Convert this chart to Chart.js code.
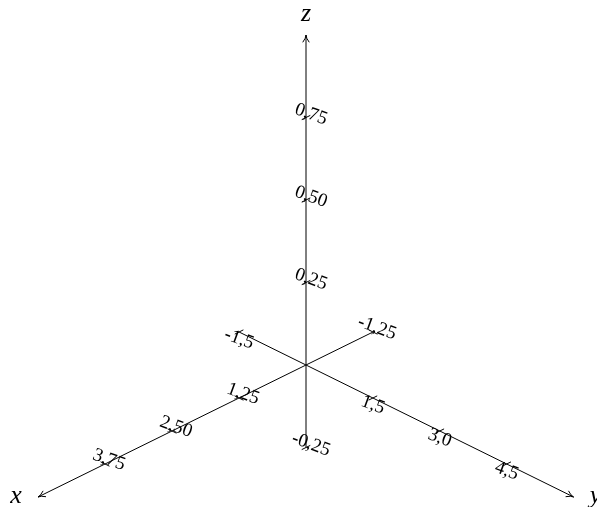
<!DOCTYPE html>
<html>
<head>
<meta charset="utf-8">
<script src="https://cdn.jsdelivr.net/npm/chart.js@4"></script>
<style>
  html, body { margin: 0; padding: 0; background: #fff; }
  #wrap { width: 597px; height: 507px; position: relative; }
</style>
</head>
<body>
<div id="wrap"><canvas id="chart"></canvas></div>
<script>
// ---------- data ----------
const AXIS_NAMES = ['x', 'y', 'z'];
const X_RANGE = [-1.25, 5];
const Y_RANGE = [-1.5, 6];
const Z_RANGE = [-0.25, 1];

const X_TICKS  = [-1.25, 1.25, 2.5, 3.75];
const X_LABELS = ['-1,25', '1,25', '2,50', '3,75'];
const Y_TICKS  = [-1.5, 1.5, 3, 4.5];
const Y_LABELS = ['-1,5', '1,5', '3,0', '4,5'];
const Z_TICKS  = [-0.25, 0.25, 0.5, 0.75];
const Z_LABELS = ['-0,25', '0,25', '0,50', '0,75'];

// ---------- projection (3d -> drawing plane) ----------
const EX = [-53.6, -26.4];   // one unit of x
const EY = [44.6, -22.0];    // one unit of y
const EZ = [0, 330];         // one unit of z
function project(x, y, z) {
  return {
    x: x * EX[0] + y * EY[0] + z * EZ[0],
    y: x * EX[1] + y * EY[1] + z * EZ[1],
  };
}

// a point on axis i at value v
function onAxis(i, v) {
  return project(i === 0 ? v : 0, i === 1 ? v : 0, i === 2 ? v : 0);
}

const RANGES = [X_RANGE, Y_RANGE, Z_RANGE];
const TICKS  = [X_TICKS, Y_TICKS, Z_TICKS];
const LABELS = [X_LABELS, Y_LABELS, Z_LABELS];
const TICK_DIR = [[0, 0.1, 0], [0.08, 0, 0], [0.08, 0, 0]];  // tick mark direction per axis
const LABEL_NUDGE = [[4, -4], [0, 7], [5, -3]];             // px
const NAME_NUDGE  = [[-22, -1], [22, -1], [0, -21]];         // px
const SERIF = '"Liberation Serif", "Times New Roman", serif';

const datasets = [];
RANGES.forEach((r, i) => {
  datasets.push({ data: [onAxis(i, r[0]), onAxis(i, r[1])] });
  TICKS[i].forEach(t => {
    const d = TICK_DIR[i];
    const a = [i === 0 ? t : 0, i === 1 ? t : 0, i === 2 ? t : 0];
    datasets.push({
      data: [
        project(a[0] - d[0], a[1] - d[1], a[2] - d[2]),
        project(a[0] + d[0], a[1] + d[1], a[2] + d[2]),
      ]
    });
  });
});
datasets.forEach(ds => {
  ds.showLine = true;
  ds.borderColor = '#000';
  ds.borderWidth = 1;
  ds.pointRadius = 0;
  ds.fill = false;
});

// arrow heads, tick labels and axis names
const decor = {
  id: 'decor',
  afterDatasetsDraw(chart) {
    const { ctx, scales } = chart;
    const px = (p) => [scales.x.getPixelForValue(p.x), scales.y.getPixelForValue(p.y)];
    ctx.save();
    ctx.strokeStyle = '#000';
    ctx.fillStyle = '#000';
    ctx.lineWidth = 1;
    RANGES.forEach((r, i) => {
      const [tx, ty] = px(onAxis(i, r[1]));
      const [bx, by] = px(onAxis(i, r[1] - (r[1] - r[0]) * 0.05));
      const ang = Math.atan2(ty - by, tx - bx);
      const len = 8, spread = 0.42;
      ctx.beginPath();
      ctx.moveTo(tx - len * Math.cos(ang - spread), ty - len * Math.sin(ang - spread));
      ctx.quadraticCurveTo(tx - 3 * Math.cos(ang), ty - 3 * Math.sin(ang), tx, ty);
      ctx.quadraticCurveTo(tx - 3 * Math.cos(ang), ty - 3 * Math.sin(ang),
        tx - len * Math.cos(ang + spread), ty - len * Math.sin(ang + spread));
      ctx.stroke();

      // axis name
      ctx.font = 'italic 26px ' + SERIF;
      ctx.textAlign = 'center';
      ctx.textBaseline = 'middle';
      ctx.fillText(AXIS_NAMES[i], tx + NAME_NUDGE[i][0], ty + NAME_NUDGE[i][1]);

      // tick labels
      ctx.font = '19px ' + SERIF;
      TICKS[i].forEach((t, k) => {
        const [lx, ly] = px(onAxis(i, t));
        ctx.save();
        ctx.translate(lx + LABEL_NUDGE[i][0], ly + LABEL_NUDGE[i][1]);
        ctx.rotate(20 * Math.PI / 180);
        ctx.fillText(LABELS[i][k], 0, 0);
        ctx.restore();
      });
    });
    ctx.restore();
  }
};

new Chart(document.getElementById('chart').getContext('2d'), {
  type: 'scatter',
  data: { datasets },
  options: {
    responsive: true,
    maintainAspectRatio: false,
    animation: false,
    layout: { padding: 0 },
    scales: {
      x: { type: 'linear', min: -306, max: 291, display: false },
      y: { type: 'linear', min: -142, max: 365, display: false },
    },
    plugins: { legend: { display: false }, tooltip: { enabled: false } },
  },
  plugins: [decor],
});
</script>
</body>
</html>
